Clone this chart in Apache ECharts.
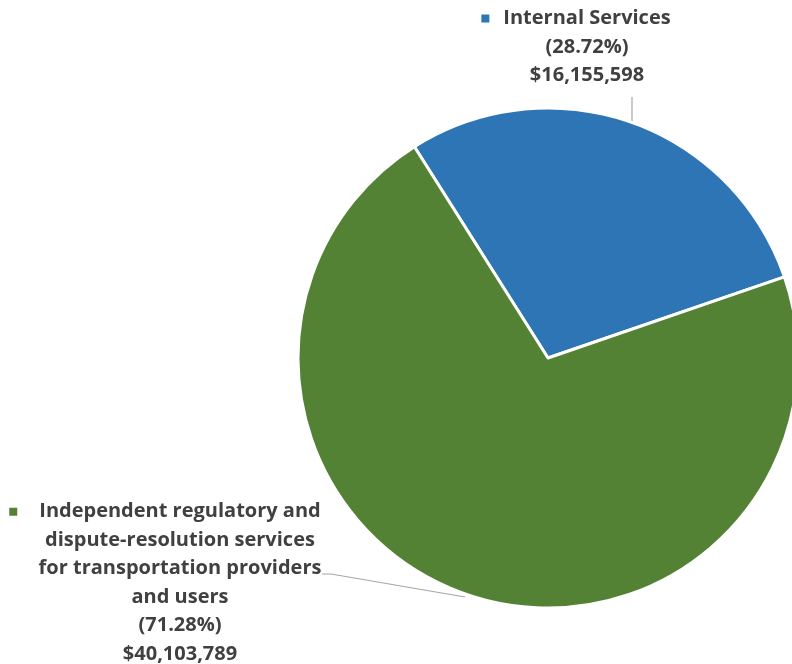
<!DOCTYPE html>
<html><head><meta charset="utf-8">
<script src="https://cdn.jsdelivr.net/npm/echarts@6/dist/echarts.min.js"></script>
<style>html,body{margin:0;padding:0;background:#fff}#c{width:792px;height:664px}</style>
</head><body><div id="c"></div>
<script>
const categories = ['Internal Services', 'Independent regulatory and dispute-resolution services for transportation providers and users'];
const labelLines = [
  ['Internal Services'],
  ['Independent regulatory and', 'dispute-resolution services', 'for transportation providers', 'and users']
];
const values = [16155598, 40103789];
const percents = ['28.72%', '71.28%'];
const colors = ['#2E75B6', '#548235'];

const chart = echarts.init(document.getElementById('c'));
const FONT = 'Open Sans';
function fmtMoney(v){ return '$' + v.toLocaleString('en-US'); }

const gaps = [14, 22];
const data = categories.map((c, i) => ({
  name: c,
  value: values[i],
  itemStyle: { color: colors[i] },
  label: {
    rich: {
      m: { width: 8, height: 8, backgroundColor: colors[i], verticalAlign: 'middle' },
      mi: { width: 8, height: 8, backgroundColor: 'transparent' },
      g: { width: gaps[i] },
      b: { fontFamily: FONT, fontWeight: 'bold', fontSize: 20, color: '#404040', lineHeight: 28.5 }
    }
  }
}));

chart.setOption({
  animation: false,
  series: [{
    type: 'pie',
    center: [548, 358],
    radius: 250,
    startAngle: 122.3,
    clockwise: true,
    data: data,
    itemStyle: { borderColor: '#fff', borderWidth: 3 },
    label: {
      show: true,
      position: 'outside',
      align: 'center',
      overflow: 'none',
      width: 1000,
      formatter: function (p) {
        const lines = labelLines[p.dataIndex];
        let s = '{m|}{g|}{b|' + lines[0] + '}{g|}{mi|}';
        for (let k = 1; k < lines.length; k++) s += '\n{b|' + lines[k] + '}';
        s += '\n{b|(' + percents[p.dataIndex] + ')}';
        s += '\n{b|' + fmtMoney(values[p.dataIndex]) + '}';
        return s;
      }
    },
    labelLine: { show: true, lineStyle: { color: '#A6A6A6', width: 1.2 } },
    labelLayout: function (params) {
      if (params.dataIndex === 0) {
        return { x: 587, y: 47, align: 'center', verticalAlign: 'middle',
          labelLinePoints: [[632, 97], [632, 108], [632, 123]] };
      }
      return { x: 180, y: 583, align: 'center', verticalAlign: 'middle',
        labelLinePoints: [[322, 574], [331, 574], [465, 597]] };
    }
  }]
});
</script></body></html>
